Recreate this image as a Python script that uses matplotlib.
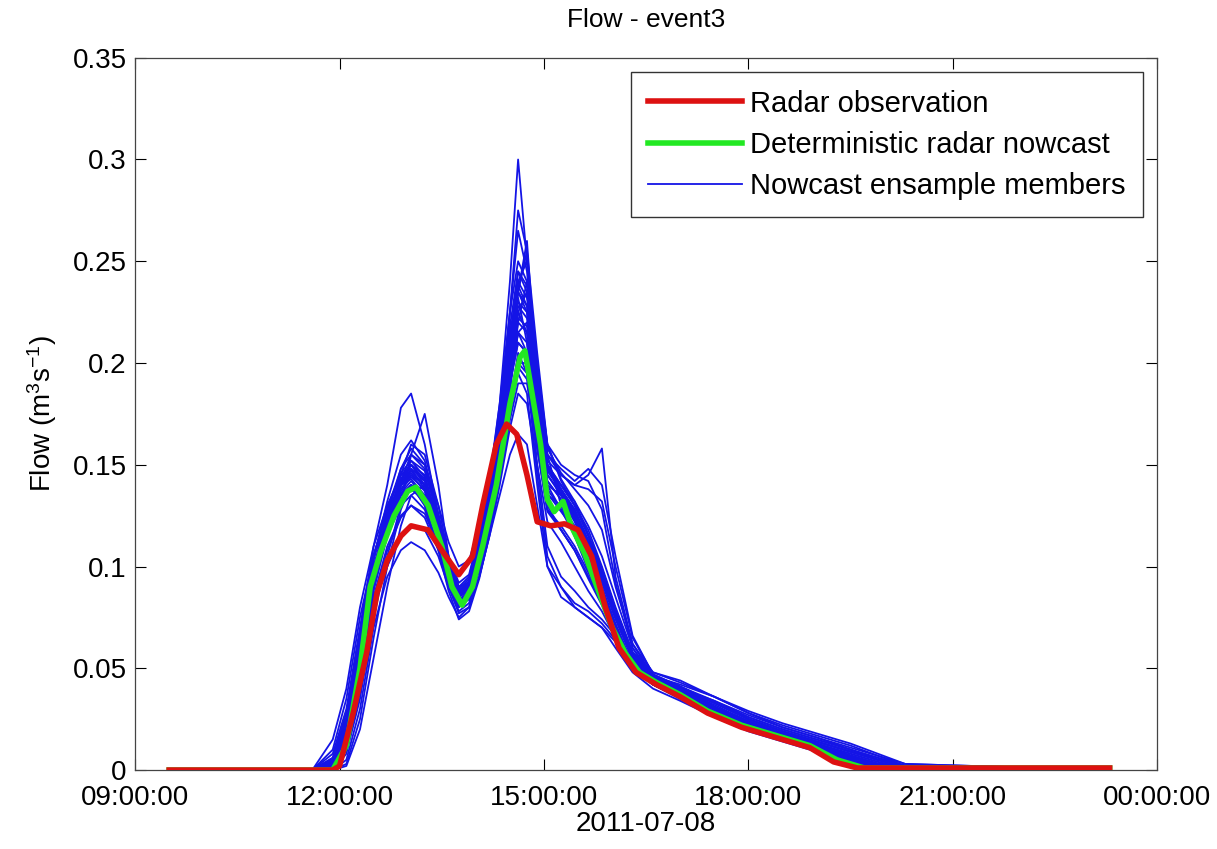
import datetime as dt
import matplotlib
matplotlib.use('Agg')
import matplotlib.pyplot as plt
import matplotlib.dates as mdates
from matplotlib.ticker import FuncFormatter

plt.rcParams['font.family'] = ['Liberation Sans', 'DejaVu Sans']
plt.rcParams['mathtext.default'] = 'regular'

DAY = dt.datetime(2011, 7, 8)

# radar observation (hours of day, flow)
RADAR_H = [9.5, 11.9, 12.0, 12.2, 12.4, 12.55, 12.7, 12.9, 13.05, 13.3, 13.5, 13.75,
           13.95, 14.1, 14.3, 14.45, 14.6, 14.75, 14.9, 15.1, 15.3, 15.5, 15.7, 15.9,
           16.1, 16.35, 16.65, 17.0, 17.4, 17.9, 18.4, 18.9, 19.25, 19.6, 23.3]
RADAR_Q = [0, 0, 0.002, 0.028, 0.058, 0.087, 0.103, 0.115, 0.12, 0.118, 0.108, 0.096,
           0.105, 0.13, 0.16, 0.17, 0.165, 0.145, 0.122, 0.12, 0.121, 0.118, 0.105, 0.08,
           0.06, 0.048, 0.042, 0.036, 0.028, 0.021, 0.016, 0.011, 0.004, 0.001, 0.001]

# deterministic radar nowcast
DET_H = [9.5, 11.9, 12.1, 12.3, 12.45, 12.6, 12.8, 13.0, 13.12, 13.3, 13.5, 13.65, 13.8,
         13.95, 14.1, 14.3, 14.5, 14.65, 14.72, 14.85, 14.95, 15.05, 15.15, 15.28, 15.4,
         15.6, 15.8, 16.0, 16.2, 16.4, 16.65, 17.0, 17.4, 17.9, 18.4, 18.9, 19.3, 19.7, 23.3]
DET_Q = [0, 0, 0.012, 0.05, 0.09, 0.107, 0.125, 0.137, 0.139, 0.13, 0.11, 0.09, 0.081,
         0.09, 0.11, 0.14, 0.18, 0.203, 0.206, 0.18, 0.16, 0.133, 0.127, 0.132, 0.12,
         0.106, 0.088, 0.07, 0.057, 0.048, 0.043, 0.037, 0.029, 0.022, 0.017, 0.012, 0.005, 0.001, 0.001]

# nowcast ensemble members on a shared time grid
ENS_H = [9.5, 11.6, 11.9, 12.1, 12.3, 12.5, 12.7, 12.9, 13.05, 13.25, 13.45, 13.6, 13.75,
         13.9, 14.05, 14.2, 14.35, 14.5, 14.62, 14.75, 14.9, 15.05, 15.25, 15.45, 15.65,
         15.85, 16.05, 16.3, 16.6, 17.0, 17.5, 18.0, 18.5, 19.0, 19.5, 19.9, 20.3, 23.3]
m01 = [0, 0, 0.003, 0.015, 0.05, 0.095, 0.115, 0.132, 0.138, 0.132, 0.113, 0.095, 0.083, 0.088, 0.105, 0.125, 0.15, 0.18, 0.2, 0.2, 0.165, 0.135, 0.13, 0.12, 0.105, 0.09, 0.072, 0.052, 0.043, 0.037, 0.028, 0.021, 0.016, 0.011, 0.004, 0.001, 0, 0]
m02 = [0, 0, 0.008, 0.03, 0.07, 0.11, 0.14, 0.178, 0.185, 0.16, 0.125, 0.1, 0.088, 0.09, 0.11, 0.135, 0.165, 0.2, 0.225, 0.215, 0.17, 0.14, 0.128, 0.118, 0.1, 0.085, 0.068, 0.05, 0.042, 0.036, 0.029, 0.022, 0.016, 0.011, 0.006, 0.002, 0, 0]
m03 = [0, 0, 0.004, 0.02, 0.06, 0.1, 0.12, 0.14, 0.145, 0.137, 0.115, 0.097, 0.085, 0.09, 0.11, 0.14, 0.18, 0.24, 0.3, 0.25, 0.18, 0.14, 0.135, 0.125, 0.11, 0.093, 0.075, 0.055, 0.044, 0.038, 0.03, 0.022, 0.017, 0.012, 0.006, 0.002, 0, 0]
m04 = [0, 0, 0, 0.008, 0.035, 0.075, 0.105, 0.13, 0.155, 0.175, 0.14, 0.105, 0.09, 0.092, 0.108, 0.13, 0.16, 0.2, 0.235, 0.26, 0.19, 0.15, 0.14, 0.13, 0.115, 0.095, 0.076, 0.056, 0.045, 0.04, 0.032, 0.024, 0.018, 0.013, 0.007, 0.003, 0.001, 0]
m05 = [0, 0, 0, 0.005, 0.03, 0.07, 0.095, 0.108, 0.112, 0.108, 0.097, 0.085, 0.075, 0.08, 0.095, 0.115, 0.135, 0.155, 0.165, 0.16, 0.13, 0.1, 0.09, 0.08, 0.075, 0.07, 0.06, 0.048, 0.04, 0.034, 0.026, 0.019, 0.014, 0.009, 0.003, 0, 0, 0]
m06 = [0, 0, 0.006, 0.025, 0.065, 0.105, 0.128, 0.145, 0.15, 0.14, 0.118, 0.1, 0.088, 0.092, 0.112, 0.14, 0.17, 0.205, 0.23, 0.225, 0.185, 0.155, 0.145, 0.14, 0.145, 0.158, 0.095, 0.062, 0.046, 0.04, 0.031, 0.023, 0.017, 0.012, 0.007, 0.003, 0.001, 0]
m07 = [0, 0, 0.01, 0.035, 0.075, 0.105, 0.122, 0.135, 0.14, 0.133, 0.115, 0.098, 0.086, 0.09, 0.105, 0.128, 0.158, 0.19, 0.21, 0.205, 0.17, 0.138, 0.128, 0.115, 0.1, 0.087, 0.07, 0.051, 0.043, 0.036, 0.027, 0.02, 0.015, 0.01, 0.004, 0.001, 0, 0]
m08 = [0, 0, 0.002, 0.012, 0.045, 0.09, 0.118, 0.14, 0.15, 0.145, 0.12, 0.098, 0.084, 0.087, 0.102, 0.122, 0.148, 0.185, 0.22, 0.24, 0.2, 0.155, 0.13, 0.115, 0.098, 0.084, 0.069, 0.052, 0.044, 0.039, 0.031, 0.024, 0.018, 0.013, 0.008, 0.004, 0.001, 0]
m09 = [0, 0, 0.005, 0.022, 0.06, 0.1, 0.12, 0.135, 0.14, 0.13, 0.11, 0.092, 0.08, 0.085, 0.1, 0.12, 0.145, 0.175, 0.195, 0.185, 0.14, 0.1, 0.085, 0.08, 0.075, 0.07, 0.063, 0.05, 0.042, 0.035, 0.027, 0.02, 0.015, 0.01, 0.004, 0.001, 0, 0]
m10 = [0, 0, 0.003, 0.018, 0.055, 0.098, 0.125, 0.148, 0.158, 0.15, 0.125, 0.1, 0.086, 0.09, 0.108, 0.132, 0.165, 0.21, 0.245, 0.235, 0.185, 0.15, 0.14, 0.132, 0.12, 0.105, 0.085, 0.06, 0.046, 0.04, 0.033, 0.025, 0.019, 0.014, 0.009, 0.005, 0.002, 0]
m11 = [0, 0, 0, 0.01, 0.04, 0.085, 0.11, 0.125, 0.13, 0.124, 0.108, 0.092, 0.078, 0.082, 0.098, 0.118, 0.142, 0.172, 0.19, 0.19, 0.16, 0.128, 0.12, 0.11, 0.097, 0.083, 0.067, 0.05, 0.042, 0.036, 0.028, 0.021, 0.016, 0.011, 0.005, 0.001, 0, 0]
m12 = [0, 0, 0.004, 0.02, 0.058, 0.1, 0.125, 0.143, 0.15, 0.142, 0.12, 0.1, 0.088, 0.093, 0.112, 0.138, 0.175, 0.225, 0.265, 0.245, 0.19, 0.15, 0.138, 0.128, 0.112, 0.095, 0.076, 0.056, 0.045, 0.039, 0.031, 0.023, 0.017, 0.012, 0.007, 0.003, 0.001, 0]
m13 = [0, 0, 0.002, 0.014, 0.048, 0.092, 0.12, 0.142, 0.155, 0.148, 0.124, 0.102, 0.09, 0.095, 0.115, 0.14, 0.17, 0.21, 0.235, 0.228, 0.185, 0.152, 0.145, 0.14, 0.138, 0.132, 0.1, 0.065, 0.047, 0.041, 0.034, 0.026, 0.02, 0.015, 0.01, 0.006, 0.002, 0]
m14 = [0, 0, 0.001, 0.01, 0.038, 0.08, 0.1, 0.115, 0.12, 0.118, 0.105, 0.09, 0.077, 0.08, 0.095, 0.115, 0.14, 0.168, 0.185, 0.18, 0.15, 0.122, 0.112, 0.1, 0.088, 0.078, 0.065, 0.05, 0.042, 0.035, 0.027, 0.02, 0.015, 0.01, 0.004, 0.001, 0, 0]
m15 = [0, 0, 0, 0.003, 0.025, 0.065, 0.1, 0.128, 0.14, 0.138, 0.12, 0.1, 0.087, 0.09, 0.106, 0.128, 0.155, 0.19, 0.215, 0.21, 0.175, 0.142, 0.133, 0.122, 0.107, 0.092, 0.074, 0.054, 0.044, 0.038, 0.03, 0.023, 0.018, 0.013, 0.008, 0.004, 0.001, 0]
m16 = [0, 0, 0.015, 0.04, 0.08, 0.11, 0.13, 0.145, 0.148, 0.138, 0.117, 0.098, 0.085, 0.088, 0.104, 0.126, 0.155, 0.19, 0.215, 0.22, 0.18, 0.145, 0.135, 0.125, 0.11, 0.094, 0.076, 0.055, 0.044, 0.037, 0.029, 0.021, 0.016, 0.011, 0.005, 0.001, 0, 0]
m17 = [0, 0, 0.003, 0.016, 0.052, 0.095, 0.122, 0.145, 0.16, 0.155, 0.13, 0.105, 0.092, 0.096, 0.116, 0.143, 0.18, 0.225, 0.25, 0.24, 0.195, 0.16, 0.15, 0.145, 0.142, 0.128, 0.092, 0.06, 0.046, 0.042, 0.036, 0.028, 0.021, 0.016, 0.011, 0.007, 0.003, 0]
m18 = [0, 0, 0.002, 0.015, 0.05, 0.092, 0.115, 0.13, 0.135, 0.128, 0.11, 0.093, 0.08, 0.084, 0.1, 0.122, 0.148, 0.18, 0.205, 0.195, 0.145, 0.105, 0.09, 0.082, 0.078, 0.072, 0.064, 0.051, 0.043, 0.036, 0.028, 0.021, 0.016, 0.011, 0.005, 0.001, 0, 0]
m19 = [0, 0, 0.004, 0.02, 0.056, 0.097, 0.12, 0.138, 0.145, 0.14, 0.12, 0.1, 0.087, 0.091, 0.11, 0.135, 0.165, 0.205, 0.24, 0.25, 0.2, 0.16, 0.142, 0.13, 0.115, 0.098, 0.078, 0.057, 0.045, 0.04, 0.034, 0.027, 0.021, 0.016, 0.01, 0.006, 0.002, 0]
m20 = [0, 0, 0.003, 0.016, 0.05, 0.093, 0.118, 0.135, 0.14, 0.13, 0.108, 0.088, 0.074, 0.078, 0.094, 0.116, 0.143, 0.178, 0.2, 0.195, 0.158, 0.128, 0.118, 0.108, 0.094, 0.081, 0.066, 0.05, 0.042, 0.036, 0.028, 0.021, 0.016, 0.011, 0.005, 0.002, 0, 0]
m21 = [0, 0, 0.005, 0.024, 0.064, 0.103, 0.128, 0.148, 0.155, 0.15, 0.13, 0.112, 0.1, 0.103, 0.12, 0.145, 0.175, 0.215, 0.235, 0.225, 0.18, 0.148, 0.14, 0.13, 0.118, 0.1, 0.08, 0.058, 0.046, 0.041, 0.033, 0.025, 0.019, 0.014, 0.009, 0.005, 0.001, 0]
m22 = [0, 0, 0.003, 0.018, 0.055, 0.097, 0.122, 0.14, 0.146, 0.14, 0.12, 0.1, 0.088, 0.092, 0.11, 0.136, 0.17, 0.225, 0.275, 0.255, 0.19, 0.15, 0.138, 0.127, 0.112, 0.096, 0.077, 0.056, 0.045, 0.039, 0.031, 0.023, 0.017, 0.012, 0.007, 0.003, 0.001, 0]
m23 = [0, 0, 0.002, 0.012, 0.044, 0.088, 0.115, 0.133, 0.14, 0.135, 0.117, 0.098, 0.085, 0.09, 0.107, 0.13, 0.16, 0.195, 0.22, 0.215, 0.175, 0.142, 0.133, 0.124, 0.11, 0.095, 0.078, 0.058, 0.048, 0.044, 0.036, 0.028, 0.022, 0.017, 0.012, 0.007, 0.002, 0]
m24 = [0, 0, 0.006, 0.028, 0.068, 0.106, 0.126, 0.14, 0.143, 0.135, 0.114, 0.095, 0.083, 0.087, 0.103, 0.124, 0.152, 0.19, 0.21, 0.205, 0.168, 0.136, 0.127, 0.118, 0.103, 0.088, 0.071, 0.052, 0.043, 0.037, 0.029, 0.022, 0.016, 0.011, 0.005, 0.001, 0, 0]
m25 = [0, 0, 0.002, 0.014, 0.05, 0.094, 0.12, 0.14, 0.147, 0.14, 0.118, 0.098, 0.085, 0.089, 0.108, 0.134, 0.17, 0.215, 0.232, 0.21, 0.165, 0.13, 0.118, 0.108, 0.095, 0.083, 0.068, 0.051, 0.043, 0.037, 0.029, 0.022, 0.016, 0.011, 0.005, 0.001, 0, 0]
m26 = [0, 0, 0.004, 0.022, 0.062, 0.104, 0.132, 0.155, 0.162, 0.152, 0.126, 0.102, 0.088, 0.091, 0.109, 0.133, 0.165, 0.2, 0.228, 0.222, 0.18, 0.148, 0.138, 0.128, 0.113, 0.097, 0.078, 0.057, 0.045, 0.039, 0.031, 0.023, 0.017, 0.012, 0.006, 0.002, 0, 0]
m27 = [0, 0, 0, 0.002, 0.02, 0.055, 0.09, 0.12, 0.135, 0.14, 0.125, 0.105, 0.09, 0.092, 0.106, 0.127, 0.155, 0.195, 0.225, 0.235, 0.19, 0.15, 0.135, 0.123, 0.108, 0.093, 0.075, 0.055, 0.045, 0.04, 0.033, 0.026, 0.02, 0.015, 0.01, 0.005, 0.002, 0]
m28 = [0, 0, 0.003, 0.018, 0.056, 0.098, 0.123, 0.142, 0.15, 0.143, 0.12, 0.1, 0.087, 0.092, 0.112, 0.138, 0.172, 0.212, 0.24, 0.232, 0.19, 0.155, 0.148, 0.142, 0.148, 0.14, 0.105, 0.066, 0.047, 0.041, 0.033, 0.025, 0.019, 0.014, 0.009, 0.005, 0.002, 0]
m29 = [0, 0, 0.004, 0.02, 0.058, 0.098, 0.12, 0.136, 0.142, 0.134, 0.114, 0.095, 0.082, 0.086, 0.103, 0.126, 0.154, 0.19, 0.215, 0.205, 0.15, 0.11, 0.095, 0.088, 0.08, 0.074, 0.066, 0.052, 0.043, 0.037, 0.029, 0.022, 0.016, 0.011, 0.005, 0.001, 0, 0]
m30 = [0, 0, 0.005, 0.026, 0.066, 0.105, 0.128, 0.146, 0.152, 0.144, 0.122, 0.101, 0.087, 0.091, 0.109, 0.133, 0.163, 0.2, 0.222, 0.218, 0.178, 0.145, 0.136, 0.126, 0.11, 0.094, 0.075, 0.055, 0.045, 0.039, 0.031, 0.024, 0.018, 0.013, 0.007, 0.003, 0.001, 0]
m31 = [0, 0, 0.002, 0.013, 0.046, 0.09, 0.117, 0.137, 0.144, 0.138, 0.118, 0.098, 0.086, 0.09, 0.107, 0.13, 0.16, 0.2, 0.235, 0.255, 0.205, 0.16, 0.143, 0.132, 0.116, 0.099, 0.079, 0.057, 0.045, 0.04, 0.033, 0.025, 0.019, 0.014, 0.009, 0.005, 0.002, 0]
m32 = [0, 0, 0.001, 0.01, 0.04, 0.084, 0.108, 0.124, 0.13, 0.126, 0.11, 0.094, 0.081, 0.084, 0.099, 0.12, 0.145, 0.178, 0.198, 0.192, 0.158, 0.127, 0.118, 0.108, 0.095, 0.082, 0.067, 0.05, 0.042, 0.036, 0.028, 0.021, 0.016, 0.011, 0.005, 0.001, 0, 0]
m33 = [0, 0, 0.003, 0.017, 0.053, 0.096, 0.121, 0.14, 0.148, 0.142, 0.121, 0.1, 0.087, 0.091, 0.11, 0.135, 0.168, 0.21, 0.238, 0.228, 0.182, 0.147, 0.137, 0.127, 0.112, 0.096, 0.077, 0.056, 0.045, 0.039, 0.031, 0.023, 0.017, 0.012, 0.006, 0.002, 0, 0]
m34 = [0, 0, 0.002, 0.015, 0.05, 0.093, 0.12, 0.141, 0.152, 0.147, 0.124, 0.102, 0.089, 0.094, 0.113, 0.14, 0.174, 0.218, 0.245, 0.238, 0.192, 0.158, 0.146, 0.138, 0.13, 0.118, 0.09, 0.062, 0.048, 0.043, 0.036, 0.029, 0.023, 0.018, 0.013, 0.008, 0.003, 0]
MEMBERS = [m01, m02, m03, m04, m05, m06, m07, m08, m09, m10, m11, m12,
           m13, m14, m15, m16, m17, m18, m19, m20, m21, m22, m23, m24,
           m25, m26, m27, m28, m29, m30, m31, m32, m33, m34]

Y_TICKS = [0, 0.05, 0.1, 0.15, 0.2, 0.25, 0.3, 0.35]
X_TICK_HOURS = [9, 12, 15, 18, 21, 24]
FS = 20


def to_time(hours):
    return [DAY + dt.timedelta(hours=h) for h in hours]


fig = plt.figure(figsize=(12.17, 8.49), dpi=100)
ax = fig.add_axes([0.111, 0.093, 0.840, 0.839])

ens_t = to_time(ENS_H)
for i, m in enumerate(MEMBERS):
    ax.plot(ens_t, m, color='#1414e6', lw=1.3,
            label='Nowcast ensample members' if i == 0 else None, zorder=2)
ax.plot(to_time(DET_H), DET_Q, color='#22e822', lw=4, label='Deterministic radar nowcast', zorder=3)
ax.plot(to_time(RADAR_H), RADAR_Q, color='#dd1111', lw=4, label='Radar observation', zorder=4)

ax.set_xlim(DAY + dt.timedelta(hours=9), DAY + dt.timedelta(hours=24))
ax.set_ylim(0, 0.35)
ax.set_xticks(to_time(X_TICK_HOURS))
ax.xaxis.set_major_formatter(mdates.DateFormatter('%H:%M:%S'))
ax.set_yticks(Y_TICKS)
ax.yaxis.set_major_formatter(FuncFormatter(lambda v, p: f'{v:g}'))
ax.tick_params(direction='in', length=8, width=0.8, labelsize=FS,
               top=True, right=True)
ax.tick_params(axis='x', pad=11)
ax.tick_params(axis='y', pad=6)
for s in ax.spines.values():
    s.set_linewidth(0.9)
    s.set_color('#444444')

ax.set_title('Flow - event3', fontsize=19, pad=22)
ax.set_xlabel('2011-07-08', fontsize=FS, labelpad=0)
ax.set_ylabel('Flow (m$^3$s$^{-1}$)', fontsize=FS, labelpad=10)

handles, labels = ax.get_legend_handles_labels()
order = [2, 1, 0]
leg = ax.legend([handles[k] for k in order], [labels[k] for k in order],
                loc='upper right', bbox_to_anchor=(0.992, 0.988), fontsize=21,
                fancybox=False, framealpha=1, edgecolor='#333333',
                handlelength=3.2, handletextpad=0.3, borderpad=0.6, labelspacing=0.45,
                borderaxespad=0.2)
leg.get_frame().set_linewidth(1.0)

fig.savefig('out.png', dpi=100)
